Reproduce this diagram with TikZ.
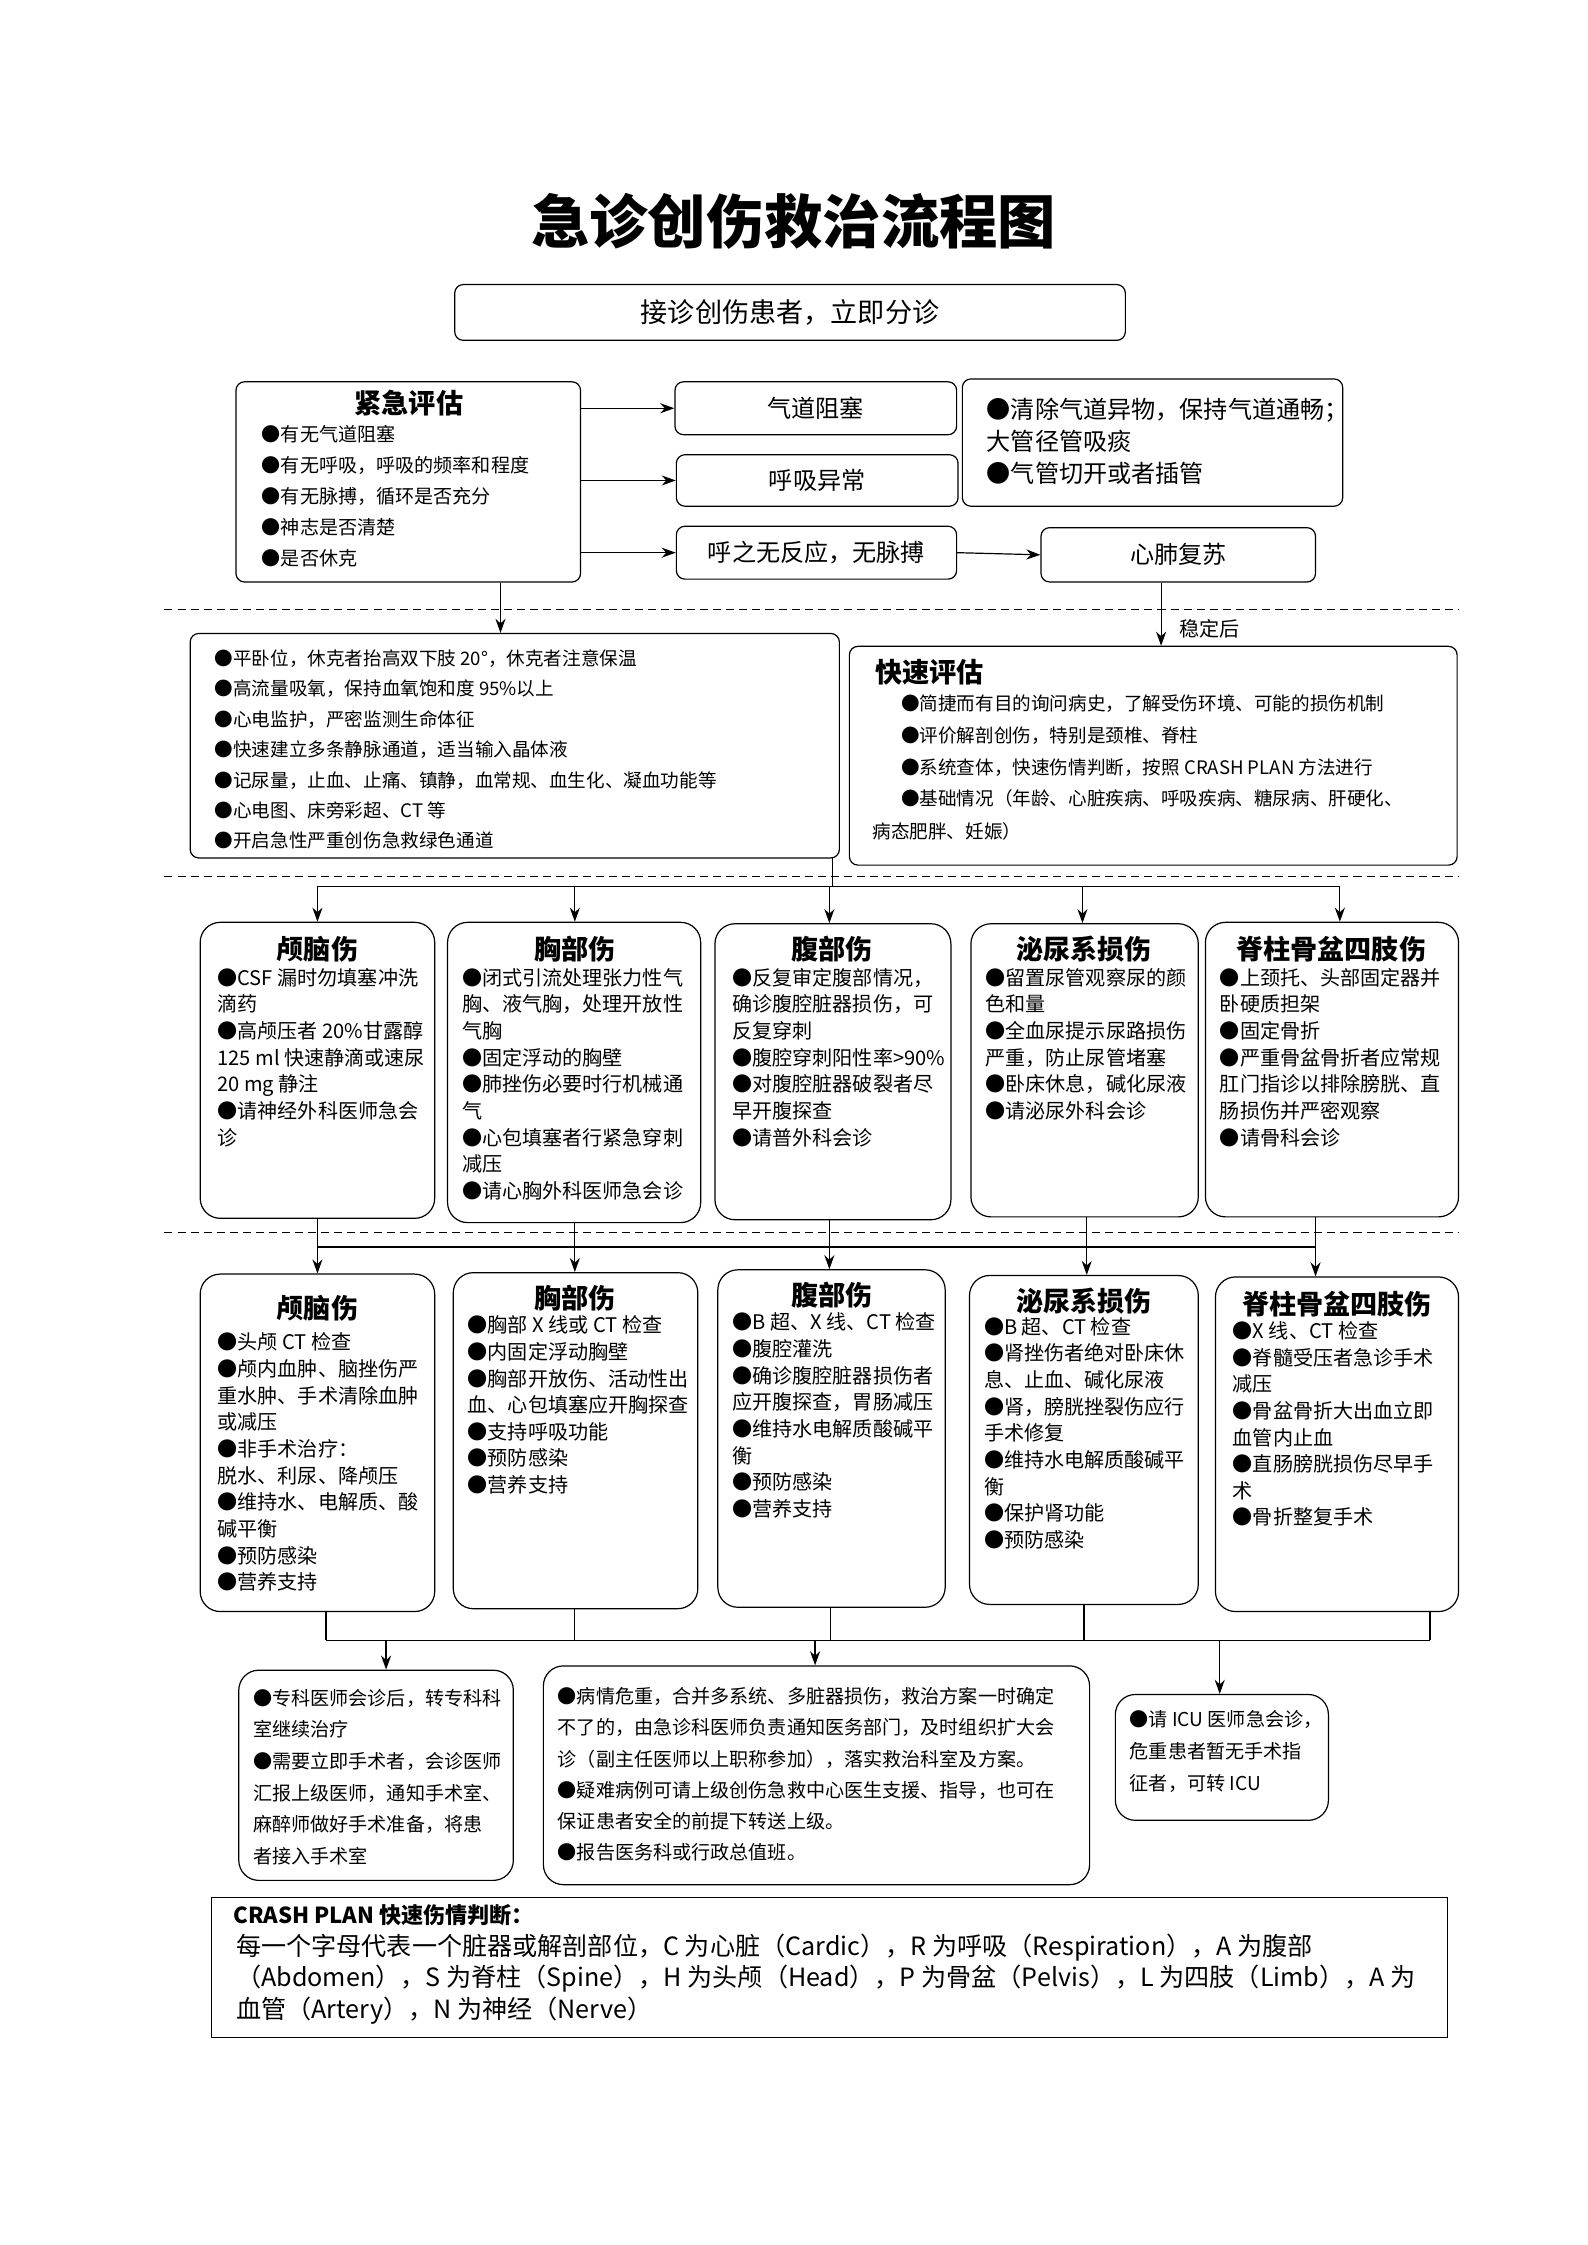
\documentclass[tikz,border=0pt]{standalone}
\usepackage{fontspec}
\setmainfont{Noto Sans CJK SC}
\usetikzlibrary{fit,arrows.meta}
\newcommand\fs[2]{\fontsize{#1}{#2}\selectfont}
\begin{document}
\begin{tikzpicture}[x=0.05cm,y=-0.05cm,
 rb/.style={draw,line width=1.2pt,rounded corners=0.7cm,inner sep=0},
 sb/.style={draw,line width=1.2pt,rounded corners=0.3cm,inner sep=0},
 tx/.style={anchor=north west,align=left,inner sep=0,font=\fs{20}{26.5}},
 ar/.style={line width=1.2pt,-{Stealth[length=14pt,width=10pt]}},
 ln/.style={line width=1.2pt},
 dl/.style={line width=1.2pt,dash pattern=on 8pt off 5pt}]
\useasboundingbox (0,0) rectangle (1110,1570);
\node[font=\fs{58}{60}\bfseries] (title) at (555,155) {急诊创伤救治流程图};
\node[sb,fit={(318,199)(787,238)}] (jz) {};
\node[font=\fs{27}{30}] at (jz.center) {接诊创伤患者，立即分诊};
\node[sb,fit={(165,267)(406,407)}] (ea) {};
\node[font=\fs{27}{30}\bfseries] at (286,282) {紧急评估};
\node[tx,font=\fs{19}{31}] at (183,297) {●有无气道阻塞\\●有无呼吸，呼吸的频率和程度\\●有无脉搏，循环是否充分\\●神志是否清楚\\●是否休克};
\node[sb,fit={(472,267)(669,304)}] (qd) {};
\node[font=\fs{24}{26}] at (qd.center) {气道阻塞};
\node[sb,fit={(473,318)(670,354)}] (hx) {};
\node[font=\fs{24}{26}] at (hx.center) {呼吸异常};
\node[sb,fit={(473,368)(669,405)}] (hz) {};
\node[font=\fs{24}{26}] at (hz.center) {呼之无反应，无脉搏};
\node[sb,fit={(673,265)(939,354)}] (qc) {};
\node[tx,font=\fs{24}{32}] at (690,278) {●清除气道异物，保持气道通畅；\\大管径管吸痰\\●气管切开或者插管};
\node[sb,fit={(728,369)(920,407)}] (xf) {};
\node[font=\fs{24}{26}] at (xf.center) {心肺复苏};
\draw[ar] (qd.west -| ea.east) -- (qd.west);
\draw[ar] (hx.west -| ea.east) -- (hx.west);
\draw[ar] (hz.west -| ea.east) -- (hz.west);
\draw[ar] (hz.east) -- (xf.west);
\draw[dl] (115,426) -- (1020,426);
\draw[dl] (115,613) -- (1020,613);
\draw[dl] (115,862) -- (1020,862);
\node[sb,fit={(133,443)(587,600)}] (lb) {};
\draw[ar] (ea.south -| 350,0) -- (lb.north -| 350,0);
\node[tx,font=\fs{18.5}{30.3}] at (150,454) {●平卧位，休克者抬高双下肢 20°，休克者注意保温\\●高流量吸氧，保持血氧饱和度 95\%以上\\●心电监护，严密监测生命体征\\●快速建立多条静脉通道，适当输入晶体液\\●记尿量，止血、止痛、镇静，血常规、血生化、凝血功能等\\●心电图、床旁彩超、CT 等\\●开启急性严重创伤急救绿色通道};
\node[sb,fit={(594,452)(1019,605)}] (kp) {};
\draw[ar] (xf.south -| 812,0) -- (kp.north -| 812,0);
\node[font=\fs{20}{22}] at (846,440) {稳定后};
\node[font=\fs{27}{30}\bfseries] at (650,470) {快速评估};
\node[tx,font=\fs{18.5}{31.5}] at (630,486) {●简捷而有目的询问病史，了解受伤环境、可能的损伤机制\\●评价解剖创伤，特别是颈椎、脊柱\\●系统查体，快速伤情判断，按照 CRASH PLAN 方法进行\\●基础情况（年龄、心脏疾病、呼吸疾病、糖尿病、肝硬化、};
\node[tx,font=\fs{18.5}{31.5}] at (610,575) {病态肥胖、妊娠）};
% row1
\node[rb,fit={(140,645)(304,852)}] (a1) {};
\node[rb,fit={(313,645)(490,855)}] (b1) {};
\node[rb,fit={(500,646)(665,853)}] (c1) {};
\node[rb,fit={(679,646)(838,851)}] (d1) {};
\node[rb,fit={(843,645)(1020,851)}] (e1) {};
\coordinate (h1) at (582,620);
\draw[ln] (582,600) -- (h1);
\draw[ln] (222,620) -- (937,620);
\foreach \n/\x in {a1/222,b1/402,c1/580,d1/757,e1/937}{\draw[ar] (\x,620) -- (\n.north -| \x,0);}
\foreach \n/\x/\t in {a1/222/颅脑伤,b1/402/胸部伤,c1/582/腹部伤,d1/758/泌尿系损伤,e1/931/脊柱骨盆四肢伤}{\node[font=\fs{27}{30}\bfseries] at (\x,664) {\t};}
\node[tx] at (152,677) {●CSF 漏时勿填塞冲洗\\滴药\\●高颅压者 20\%甘露醇\\125 ml 快速静滴或速尿\\20 mg 静注\\●请神经外科医师急会\\诊};
\node[tx] at (323,677) {●闭式引流处理张力性气\\胸、液气胸，处理开放性\\气胸\\●固定浮动的胸壁\\●肺挫伤必要时行机械通\\气\\●心包填塞者行紧急穿刺\\减压\\●请心胸外科医师急会诊};
\node[tx] at (512,677) {●反复审定腹部情况，\\确诊腹腔脏器损伤，可\\反复穿刺\\●腹腔穿刺阳性率>90\%\\●对腹腔脏器破裂者尽\\早开腹探查\\●请普外科会诊};
\node[tx] at (689,677) {●留置尿管观察尿的颜\\色和量\\●全血尿提示尿路损伤\\严重，防止尿管堵塞\\●卧床休息，碱化尿液\\●请泌尿外科会诊};
\node[tx] at (853,677) {●上颈托、头部固定器并\\卧硬质担架\\●固定骨折\\●严重骨盆骨折者应常规\\肛门指诊以排除膀胱、直\\肠损伤并严密观察\\●请骨科会诊};
% row2
\node[rb,fit={(140,891)(304,1127)}] (a2) {};
\node[rb,fit={(317,890)(488,1125)}] (b2) {};
\node[rb,fit={(502,888)(661,1124)}] (c2) {};
\node[rb,fit={(678,892)(838,1122)}] (d2) {};
\node[rb,fit={(850,893)(1020,1127)}] (e2) {};
\draw[ln] (222,872) -- (920,872);
\foreach \a/\b/\x in {a1/a2/222,b1/b2/402,c1/c2/580,d1/d2/760,e1/e2/920}{
 \draw[ln] (\a.south -| \x,0) -- (\x,872);
 \draw[ar] (\x,872) -- (\b.north -| \x,0);}
\node[font=\fs{27}{30}\bfseries] at (222,915) {颅脑伤};
\node[font=\fs{27}{30}\bfseries] at (402,908) {胸部伤};
\node[font=\fs{27}{30}\bfseries] at (582,906) {腹部伤};
\node[font=\fs{27}{30}\bfseries] at (758,910) {泌尿系损伤};
\node[font=\fs{27}{30}\bfseries] at (935,912) {脊柱骨盆四肢伤};
\node[tx] at (152,932) {●头颅 CT 检查\\●颅内血肿、脑挫伤严\\重水肿、手术清除血肿\\或减压\\●非手术治疗：\\脱水、利尿、降颅压\\●维持水、电解质、酸\\碱平衡\\●预防感染\\●营养支持};
\node[tx] at (327,920) {●胸部 X 线或 CT 检查\\●内固定浮动胸壁\\●胸部开放伤、活动性出\\血、心包填塞应开胸探查\\●支持呼吸功能\\●预防感染\\●营养支持};
\node[tx] at (512,918) {●B 超、X 线、CT 检查\\●腹腔灌洗\\●确诊腹腔脏器损伤者\\应开腹探查，胃肠减压\\●维持水电解质酸碱平\\衡\\●预防感染\\●营养支持};
\node[tx] at (688,921) {●B 超、CT 检查\\●肾挫伤者绝对卧床休\\息、止血、碱化尿液\\●肾，膀胱挫裂伤应行\\手术修复\\●维持水电解质酸碱平\\衡\\●保护肾功能\\●预防感染};
\node[tx] at (862,924) {●X 线、CT 检查\\●脊髓受压者急诊手术\\减压\\●骨盆骨折大出血立即\\血管内止血\\●直肠膀胱损伤尽早手\\术\\●骨折整复手术};
% bottom
\node[rb,fit={(167,1168)(359,1315)}] (p1) {};
\node[rb,fit={(380,1165)(762,1318)}] (p2) {};
\node[rb,fit={(780,1185)(929,1273)}] (p3) {};
\draw[ln] (228,1147) -- (1000,1147);
\foreach \n/\x in {a2/228,b2/402,c2/581,d2/758,e2/1000}{\draw[ln] (\n.south -| \x,0) -- (\x,1147);}
\draw[ar] (270,1147) -- (p1.north -| 270,0);
\draw[ar] (570,1147) -- (p2.north -| 570,0);
\draw[ar] (853,1147) -- (p3.north -| 853,0);
\node[tx,font=\fs{19}{31.5}] at (177,1181) {●专科医师会诊后，转专科科\\室继续治疗\\●需要立即手术者，会诊医师\\汇报上级医师，通知手术室、\\麻醉师做好手术准备，将患\\者接入手术室};
\node[tx,font=\fs{19}{31}] at (390,1180) {●病情危重，合并多系统、多脏器损伤，救治方案一时确定\\不了的，由急诊科医师负责通知医务部门，及时组织扩大会\\诊（副主任医师以上职称参加），落实救治科室及方案。\\●疑难病例可请上级创伤急救中心医生支援、指导，也可在\\保证患者安全的前提下转送上级。\\●报告医务科或行政总值班。};
\node[tx,font=\fs{19}{32}] at (790,1196) {●请 ICU 医师急会诊，\\危重患者暂无手术指\\征者，可转 ICU};
\node[draw,line width=1.2pt,inner sep=0,fit={(148,1327)(1012,1425)}] (cr) {};
\node[tx,font=\fs{22}{26}\bfseries] at (163,1332) {CRASH PLAN 快速伤情判断：};
\node[tx,font=\fs{25}{31.5}] at (165,1352) {每一个字母代表一个脏器或解剖部位，C 为心脏（Cardic），R 为呼吸（Respiration），A 为腹部\\（Abdomen），S 为脊柱（Spine），H 为头颅（Head），P 为骨盆（Pelvis），L 为四肢（Limb），A 为\\血管（Artery），N 为神经（Nerve）};
\end{tikzpicture}
\end{document}
